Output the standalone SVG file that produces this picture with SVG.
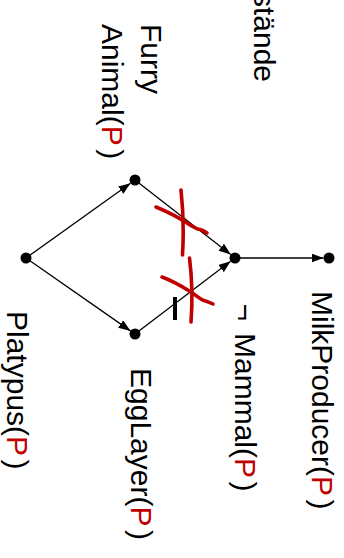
<svg xmlns="http://www.w3.org/2000/svg" width="344" height="558" viewBox="0 0 344 558">
  <style>
    .lbl { font-family: "Liberation Sans", Arial, sans-serif; font-size: 30px; fill: #000; }
    .p { fill: #c00000; }
    .edge { stroke: #000; stroke-width: 1.3; fill: none; marker-end: url(#arrow); }
    .dot { fill: #000; }
    .strike { stroke: #c00000; stroke-width: 3.6; fill: none; stroke-linecap: round; stroke-linejoin: round; }
  </style>
  <defs>
    <marker id="arrow" markerUnits="userSpaceOnUse" markerWidth="13" markerHeight="10" refX="12" refY="4.5" orient="auto">
      <path d="M0,0 L12,4.5 L0,9 z" fill="#000"/>
    </marker>
  </defs>
  <rect width="344" height="558" fill="#fff"/>

  <!-- heading, running off the top edge -->
  <text class="lbl" text-anchor="end" transform="translate(254,82) rotate(90)">stände</text>

  <!-- connectors -->
  <g id="edges">
    <line class="edge" x1="26" y1="258" x2="130.5" y2="183.2"/>
    <line class="edge" x1="26" y1="258" x2="130.5" y2="330.9"/>
    <line class="edge" x1="135" y1="180" x2="230.7" y2="254.6"/>
    <line class="edge" x1="135" y1="334" x2="230.6" y2="261.3"/>
    <line class="edge" x1="235" y1="258" x2="323.5" y2="258"/>
    <!-- negation bar on the EggLayer edge -->
    <line x1="175" y1="297" x2="175" y2="320" stroke="#000" stroke-width="4"/>
  </g>

  <g id="platypus">
    <circle class="dot" cx="26" cy="258" r="5.5"/>
    <text class="lbl" transform="translate(7,311) rotate(90)">Platypus(<tspan class="p">P</tspan><tspan dx="3.5">)</tspan></text>
  </g>

  <g id="furry-animal">
    <circle class="dot" cx="135" cy="180" r="5.5"/>
    <text class="lbl" transform="translate(140.5,24) rotate(90)">Furry</text>
    <text class="lbl" transform="translate(102,24) rotate(90)">Animal(<tspan class="p">P</tspan><tspan dx="3.5">)</tspan></text>
  </g>

  <g id="egg-layer">
    <circle class="dot" cx="135" cy="334" r="5.5"/>
    <text class="lbl" transform="translate(130.5,368) rotate(90)">EggLayer(<tspan class="p">P</tspan><tspan dx="3.5">)</tspan></text>
  </g>

  <g id="mammal">
    <circle class="dot" cx="235" cy="258" r="5.5"/>
    <text class="lbl" transform="translate(234.5,303.5) rotate(90)">¬</text>
    <text class="lbl" transform="translate(234.5,333) rotate(90)">Mammal(<tspan class="p">P</tspan><tspan dx="3.5">)</tspan></text>
  </g>

  <g id="milk-producer">
    <circle class="dot" cx="329" cy="258" r="5.5"/>
    <text class="lbl" transform="translate(311.5,291) rotate(90)">MilkProducer(<tspan class="p">P</tspan><tspan dx="3.5">)</tspan></text>
  </g>

  <!-- hand-drawn red crossings over the two Mammal edges -->
  <g id="strikes">
    <path class="strike" d="M181,190 Q184.5,222 182.5,255"/>
    <path class="strike" d="M156,207 C168,212 178,217 187,223 C193,227 196,229 200,229.5 C203,230 205,231.5 207,233"/>
    <path class="strike" d="M189.5,258 Q193.5,290 191,322"/>
    <path class="strike" d="M162,277 C173,281 183,287 191,292 C197,296 200,299 204,300.5 C207,301.5 210,302.5 213,304"/>
  </g>
</svg>
